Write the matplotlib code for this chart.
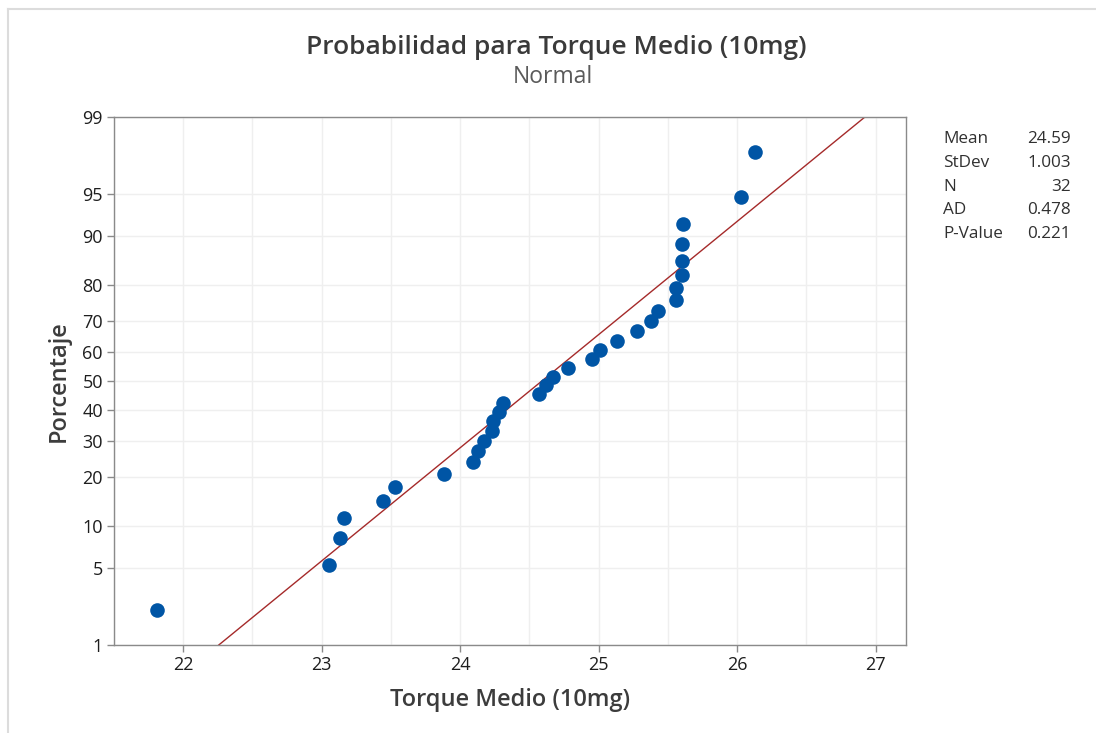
import numpy as np
import matplotlib
matplotlib.use("Agg")
import matplotlib.pyplot as plt
from matplotlib.lines import Line2D
from statistics import NormalDist

# ---- data ----
torque = [21.81, 23.05, 23.13, 23.16, 23.44, 23.53, 23.88, 24.09,
          24.13, 24.17, 24.23, 24.24, 24.28, 24.31, 24.57, 24.62,
          24.67, 24.78, 24.95, 25.01, 25.13, 25.28, 25.38, 25.43,
          25.56, 25.56, 25.60, 25.60, 25.60, 25.61, 26.03, 26.13]
percent = [2.16, 5.25, 8.33, 11.42, 14.51, 17.59, 20.68, 23.77,
           26.85, 29.94, 33.02, 36.11, 39.20, 42.28, 45.37, 48.46,
           51.54, 54.63, 57.72, 60.80, 63.89, 66.98, 70.06, 73.15,
           76.23, 79.32, 82.41, 85.49, 88.58, 91.67, 94.75, 97.84]
mean_val = 24.59
stdev_val = 1.003
stat_names = ["Mean", "StDev", "N", "AD", "P-Value"]
stat_values = ["24.59", "1.003", "32", "0.478", "0.221"]
y_ticks = [1, 5, 10, 20, 30, 40, 50, 60, 70, 80, 90, 95, 99]
x_ticks = [22, 23, 24, 25, 26, 27]
x_minor = [21.5, 22.5, 23.5, 24.5, 25.5, 26.5]

FONT = ["Open Sans", "DejaVu Sans"]
plt.rcParams["font.family"] = FONT

nd = NormalDist()
_ppf = np.vectorize(lambda v: nd.inv_cdf(min(max(v / 100.0, 1e-9), 1 - 1e-9)), otypes=[float])
_cdf = np.vectorize(lambda v: nd.cdf(v) * 100.0, otypes=[float])

def fwd(p):
    return _ppf(np.asarray(p, float))

def inv(z):
    return _cdf(np.asarray(z, float))

fig = plt.figure(figsize=(10.96, 7.33), dpi=100)
fig.patch.set_facecolor("white")

# outer light frame
fig.add_artist(Line2D([7.5 / 1096, 7.5 / 1096], [0, 1 - 8.5 / 733], transform=fig.transFigure,
                      color="#dcdcdc", lw=1.5))
fig.add_artist(Line2D([7.5 / 1096, 1], [1 - 8.5 / 733, 1 - 8.5 / 733], transform=fig.transFigure,
                      color="#dcdcdc", lw=1.5))

ax = fig.add_axes([114 / 1096, 1 - 645 / 733, (906 - 114) / 1096, (645 - 117) / 733])
ax.set_yscale("function", functions=(fwd, inv))
ax.set_ylim(1, 99)
ax.set_xlim(21.50, 27.22)

ax.set_yticks(y_ticks)
ax.set_yticklabels([str(t) for t in y_ticks])
ax.yaxis.set_minor_locator(matplotlib.ticker.NullLocator())
ax.set_xticks(x_ticks)
ax.set_xticks(x_minor, minor=True)

ax.grid(True, which="major", color="#efefef", lw=1.0)
ax.grid(True, which="minor", axis="x", color="#efefef", lw=1.0)
ax.set_axisbelow(True)

for s in ax.spines.values():
    s.set_color("#8a8a8a")
    s.set_linewidth(1.0)
ax.tick_params(axis="both", which="major", direction="out", length=5, width=1,
               color="#8a8a8a", labelsize=13, labelcolor="#1e1e1e", pad=3)
ax.tick_params(axis="x", which="minor", length=0)

# fitted line
z_lo, z_hi = nd.inv_cdf(0.01), nd.inv_cdf(0.99)
ax.plot([mean_val + stdev_val * z_lo, mean_val + stdev_val * z_hi], [1, 99],
        color="#a52a2a", lw=1.0, zorder=2, clip_on=True)

ax.plot(torque, percent, "o", color="#0055a5", markersize=10.5, markeredgewidth=0, zorder=3)

ax.set_xlabel("Torque Medio (10mg)", fontsize=17, color="#3c3c3c", fontweight="semibold", labelpad=10)
ax.set_ylabel("Porcentaje", fontsize=17, color="#3c3c3c", fontweight="semibold", labelpad=8)

fig.text(556 / 1096, 1 - 47 / 733, "Probabilidad para Torque Medio (10mg)", ha="center", va="center",
         fontsize=19, fontweight="semibold", color="#3a3a3a")
fig.text(553 / 1096, 1 - 77 / 733, "Normal", ha="center", va="center",
         fontsize=16.5, color="#5a5a5a")

for i, (n, v) in enumerate(zip(stat_names, stat_values)):
    y = 1 - (139 + i * 23.8) / 733
    fig.text(943 / 1096, y, n, ha="left", va="center", fontsize=12.3, color="#303030")
    fig.text(1071 / 1096, y, v, ha="right", va="center", fontsize=12.3, color="#303030")

fig.savefig("out.png", dpi=100, facecolor="white")
